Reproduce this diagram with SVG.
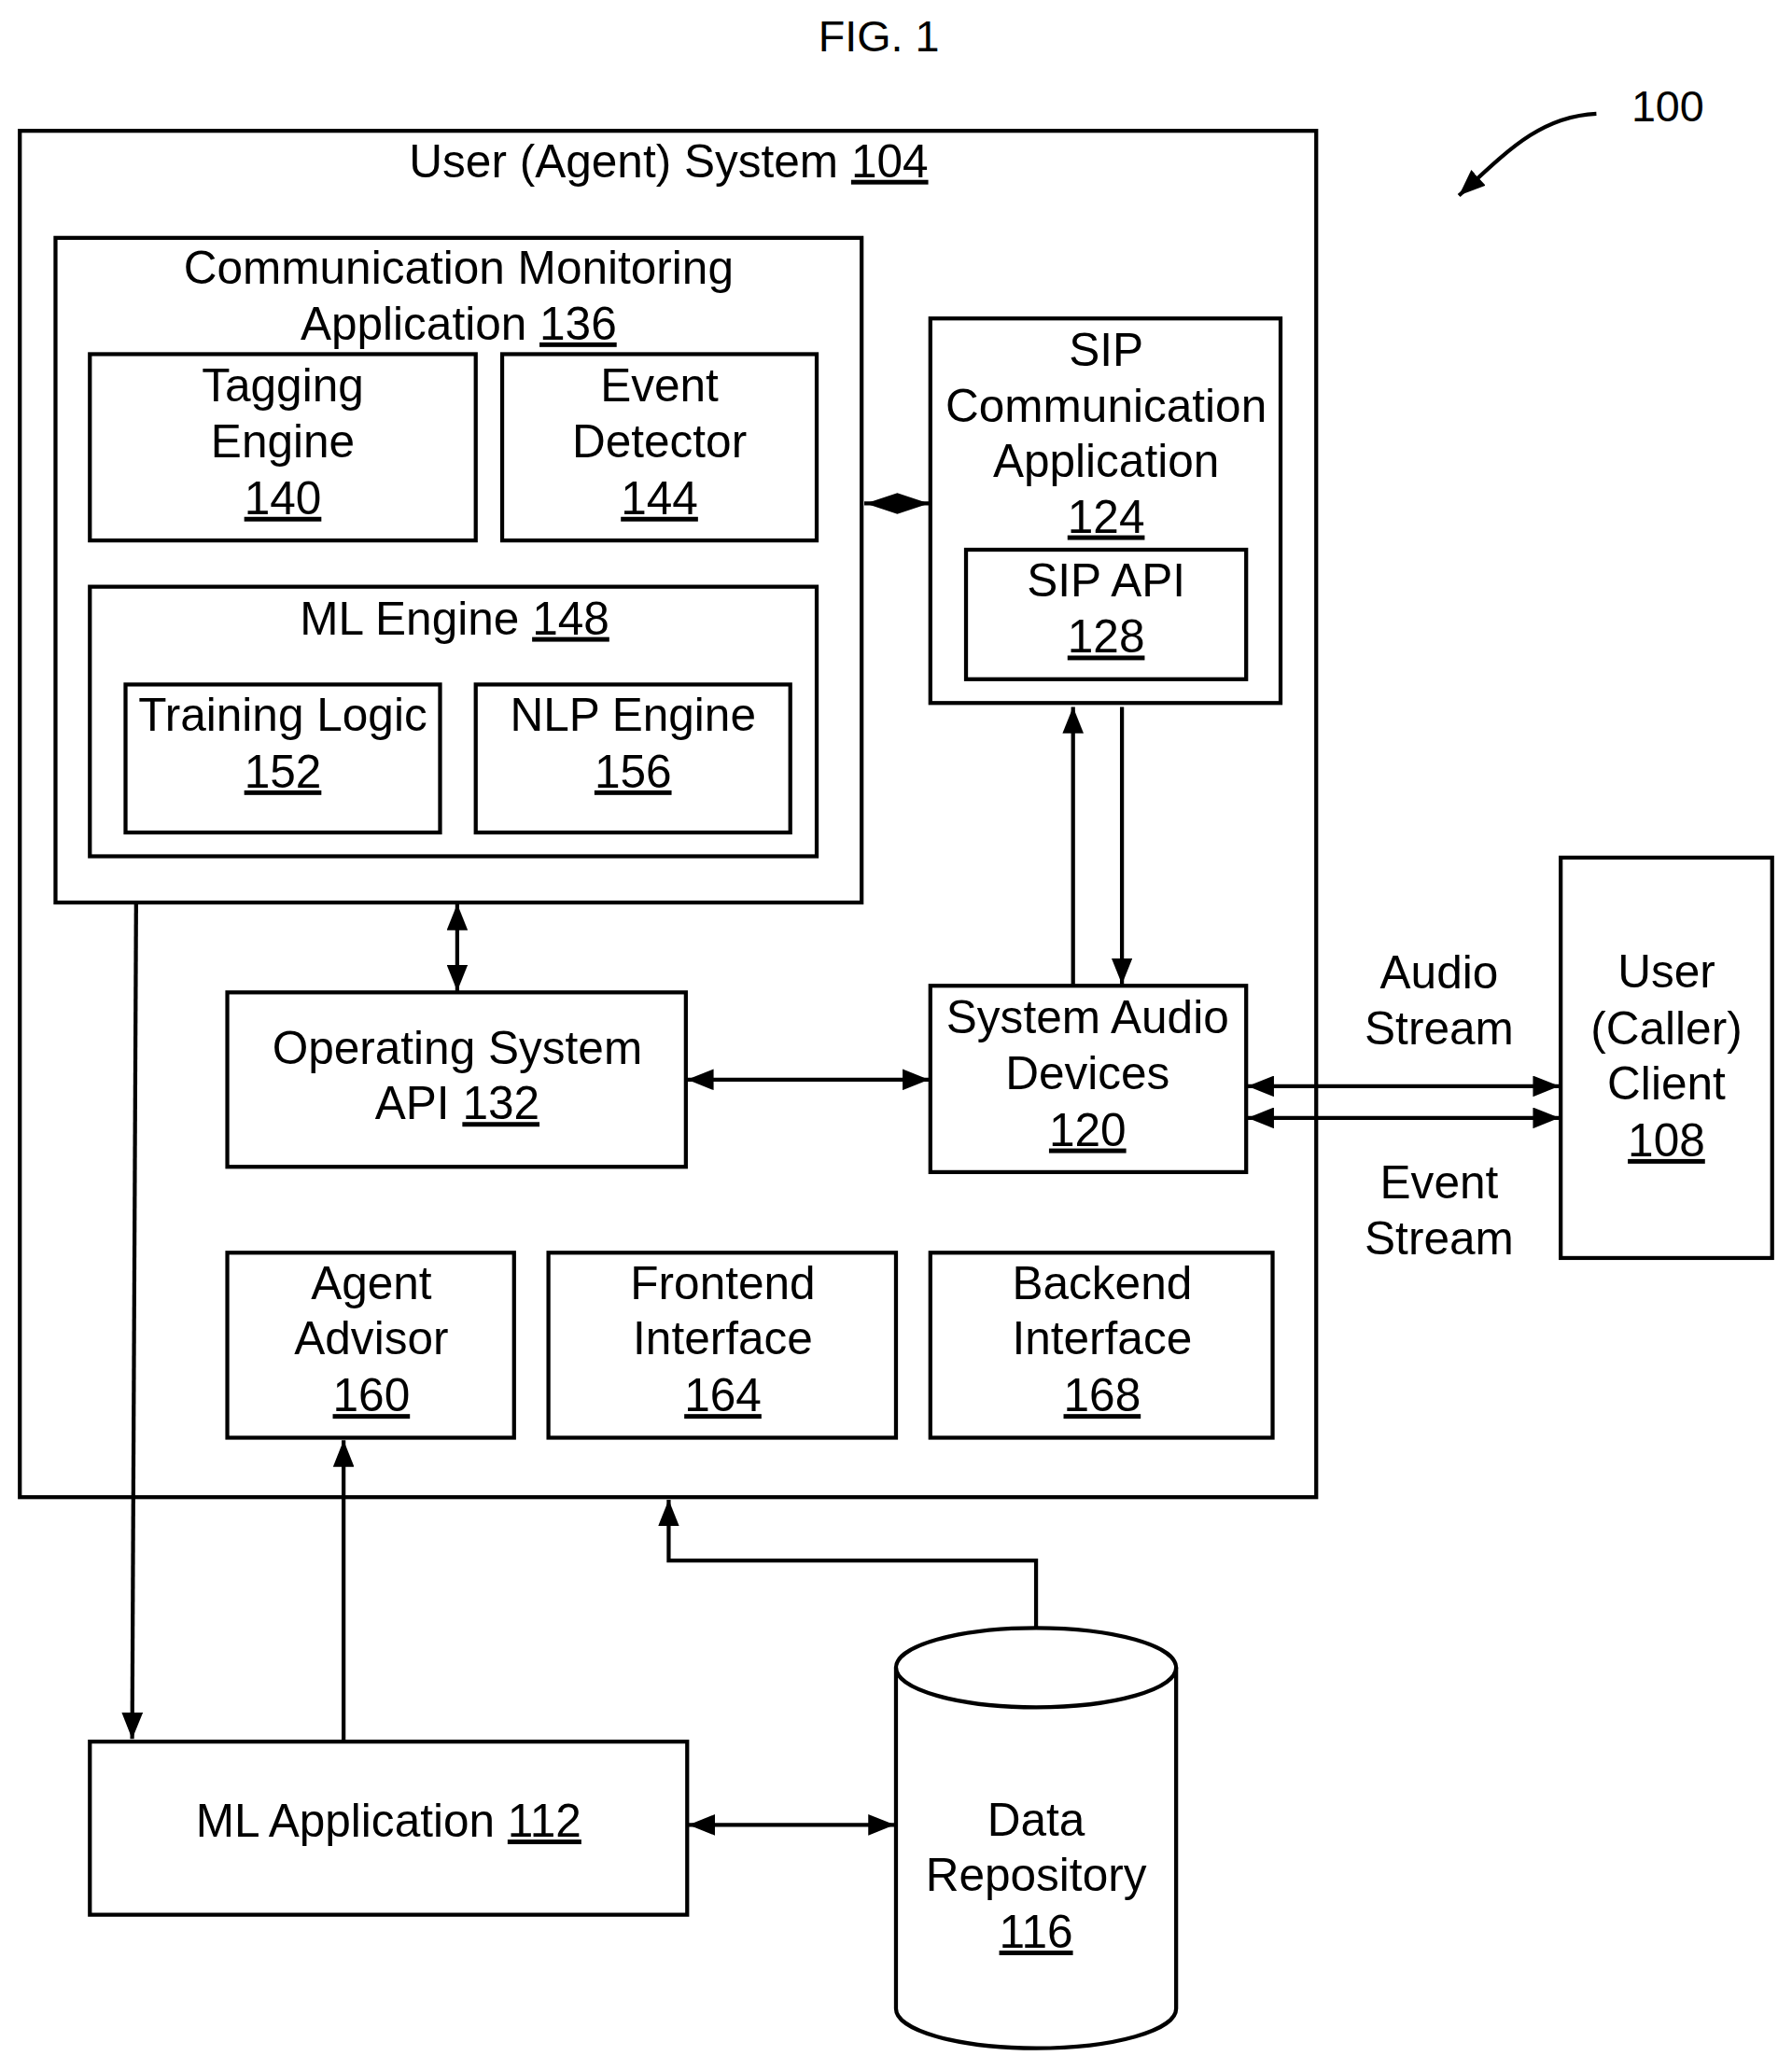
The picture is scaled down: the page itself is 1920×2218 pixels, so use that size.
<svg xmlns="http://www.w3.org/2000/svg" width="1920" height="2218" viewBox="0 0 1920 2218">
<defs>
<marker id="ah" viewBox="0 0 20 16" refX="20" refY="8" markerWidth="20" markerHeight="16" markerUnits="userSpaceOnUse" orient="auto-start-reverse"><path d="M0,0 L20,8 L0,16 Z" fill="#000"/></marker>
</defs>
<style>
rect,.cyl{fill:#fff;stroke:#000;stroke-width:3}
text{font-family:"Liberation Sans",Arial,sans-serif;font-size:35px;text-anchor:middle;fill:#000}
.u{text-decoration:underline}
.c{fill:none;stroke:#000;stroke-width:3}
</style>
<rect x="0" y="0" width="1920" height="2218" style="fill:#fff;stroke:none"/>
<g transform="scale(1.4159)">
<text x="665" y="39" style="font-size:33px">FIG. 1</text>
<g id="ref100"><text x="1262" y="92" style="font-size:33px">100</text>
<path class="c" d="M1208,86 C1165,88 1140,115 1104,148" marker-end="url(#ah)"/></g>
<g id="n104"><rect x="15" y="99" width="981" height="1034"/>
<text x="506" y="134">User (Agent) System <tspan class="u">104</tspan></text></g>
<g id="n136"><rect x="42" y="180" width="610" height="503"/>
<text x="347" y="215">Communication Monitoring</text><text x="347" y="257">Application <tspan class="u">136</tspan></text></g>
<g id="n140"><rect x="68" y="268" width="292" height="141"/>
<text x="214" y="304">Tagging</text><text x="214" y="346">Engine</text><text x="214" y="389" class="u">140</text></g>
<g id="n144"><rect x="380" y="268" width="238" height="141"/>
<text x="499" y="304">Event</text><text x="499" y="346">Detector</text><text x="499" y="389" class="u">144</text></g>
<g id="n148"><rect x="68" y="444" width="550" height="204"/>
<text x="344" y="480">ML Engine <tspan class="u">148</tspan></text></g>
<g id="n152"><rect x="95" y="518" width="238" height="112"/>
<text x="214" y="553">Training Logic</text><text x="214" y="596" class="u">152</text></g>
<g id="n156"><rect x="360" y="518" width="238" height="112"/>
<text x="479" y="553">NLP Engine</text><text x="479" y="596" class="u">156</text></g>
<g id="n124"><rect x="704" y="241" width="265" height="291"/>
<text x="837" y="277">SIP</text><text x="837" y="319">Communication</text><text x="837" y="361">Application</text><text x="837" y="403" class="u">124</text></g>
<g id="n128"><rect x="731" y="416" width="212" height="98"/>
<text x="837" y="451">SIP API</text><text x="837" y="494" class="u">128</text></g>
<g id="n120"><rect x="704" y="746" width="239" height="141"/>
<text x="823" y="782">System Audio</text><text x="823" y="824">Devices</text><text x="823" y="867" class="u">120</text></g>
<g id="n132"><rect x="172" y="751" width="347" height="132"/>
<text x="346" y="805">Operating System</text><text x="346" y="847">API <tspan class="u">132</tspan></text></g>
<g id="n108"><rect x="1181" y="649" width="160" height="303"/>
<text x="1261" y="747">User</text><text x="1261" y="790">(Caller)</text><text x="1261" y="832">Client</text><text x="1261" y="875" class="u">108</text></g>
<g id="n160"><rect x="172" y="948" width="217" height="140"/>
<text x="281" y="983">Agent</text><text x="281" y="1025">Advisor</text><text x="281" y="1068" class="u">160</text></g>
<g id="n164"><rect x="415" y="948" width="263" height="140"/>
<text x="547" y="983">Frontend</text><text x="547" y="1025">Interface</text><text x="547" y="1068" class="u">164</text></g>
<g id="n168"><rect x="704" y="948" width="259" height="140"/>
<text x="834" y="983">Backend</text><text x="834" y="1025">Interface</text><text x="834" y="1068" class="u">168</text></g>
<g id="n112"><rect x="68" y="1318" width="452" height="131"/>
<text x="294" y="1390">ML Application <tspan class="u">112</tspan></text></g>
<g id="n116">
<path class="cyl" d="M678,1262 A106,30 0 0 1 890,1262 L890,1520 A106,30 0 0 1 678,1520 Z"/>
<path class="c" d="M678,1262 A106,30 0 0 0 890,1262"/>
<text x="784" y="1389">Data</text><text x="784" y="1431">Repository</text><text x="784" y="1474" class="u">116</text></g>
<g id="connectors">
<path class="c" d="M654,381 L703,381"/>
<path d="M655,381 L679,373 L703,381 L679,389 Z" fill="#000"/>
<path class="c" d="M812,745 L812,535" marker-end="url(#ah)"/>
<path class="c" d="M849,535 L849,745" marker-end="url(#ah)"/>
<path class="c" d="M346,684 L346,750" marker-start="url(#ah)" marker-end="url(#ah)"/>
<path class="c" d="M520,817 L703,817" marker-start="url(#ah)" marker-end="url(#ah)"/>
<path class="c" d="M944,822 L1180,822" marker-start="url(#ah)" marker-end="url(#ah)"/>
<path class="c" d="M944,846 L1180,846" marker-start="url(#ah)" marker-end="url(#ah)"/>
<path class="c" d="M103,683 L100,1316" marker-end="url(#ah)"/>
<path class="c" d="M260,1318 L260,1090" marker-end="url(#ah)"/>
<path class="c" d="M784,1232 L784,1181 L506,1181 L506,1135" marker-end="url(#ah)"/>
<path class="c" d="M521,1381 L677,1381" marker-start="url(#ah)" marker-end="url(#ah)"/>
<text x="1089" y="748">Audio</text><text x="1089" y="790">Stream</text>
<text x="1089" y="907">Event</text><text x="1089" y="949">Stream</text>
</g>
</g>
</svg>
